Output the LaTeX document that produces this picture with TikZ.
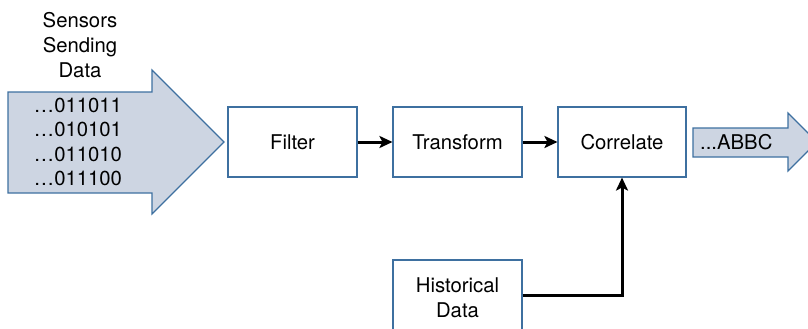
\documentclass[tikz,border=0pt]{standalone}
\usepackage{fontspec}
\setmainfont{TeX Gyre Heros}
\usetikzlibrary{arrows.meta}
\definecolor{bfill}{RGB}{205,213,226}
\definecolor{bline}{RGB}{62,112,160}
\tikzset{
  procbox/.style={draw=bline, line width=1.1pt, fill=white, minimum width=129pt, minimum height=70pt, inner sep=0pt, align=center, font=\fontsize{20.3}{25}\selectfont},
  bigarrow/.style={draw=bline, line width=1.1pt, fill=bfill, line join=miter},
  flow/.style={line width=3pt, -{Stealth[length=13pt, width=12pt, inset=3pt]}},
  lbl/.style={align=center, font=\fontsize{20.3}{25}\selectfont, inner sep=0pt}
}
\begin{document}
\begin{tikzpicture}[x=1pt, y=-1pt]
\useasboundingbox (0,0) rectangle (808,329);
% big input arrow
\draw[bigarrow] (8,92) -- (152,92) -- (152,70) -- (224,142) -- (152,214) -- (152,193) -- (8,193) -- cycle;
\node[lbl] (sensors) at (80,45) {Sensors\\Sending\\Data};
\node[lbl] (bits) at (78,142) {…011011\\[-0.5pt]…010101\\[-0.5pt]…011010\\[-0.5pt]…011100};
% output arrow
\draw[bigarrow] (693,128) -- (788,128) -- (788,113) -- (817,142) -- (788,171) -- (788,157) -- (693,157) -- cycle;
\node[lbl, anchor=west] (out) at (700,142) {...ABBC};
% boxes
\node[procbox] (filter) at (292.5,142) {Filter};
\node[procbox] (transform) at (457.5,142) {Transform};
\node[procbox, minimum width=128pt] (correlate) at (622,142) {Correlate};
\node[procbox, minimum height=76pt] (hist) at (457.5,298) {Historical\\Data};
% connectors
\draw[flow] (hist.east |- 0,295) -| (correlate.south);
\draw[flow] (filter) -- (transform);
\draw[flow] (transform) -- (correlate);
\end{tikzpicture}
\end{document}
